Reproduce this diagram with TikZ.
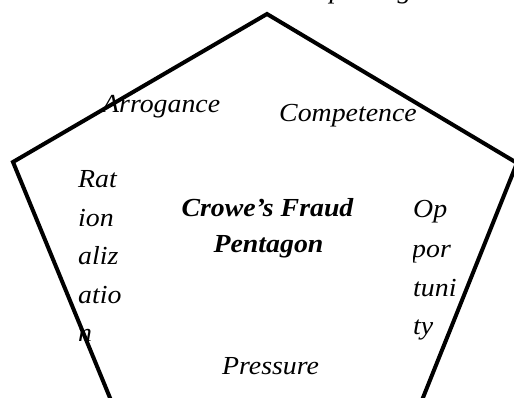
\documentclass[tikz,border=0pt]{standalone}
\usepackage{fontspec}
\newfontfamily\tnri[FakeStretch=1.07]{Liberation Serif Italic}
\newfontfamily\tnrbi[FakeStretch=1.07]{Liberation Serif Bold Italic}
\tikzset{
  lbl/.style={font=\tnri\fontsize{26}{29}\selectfont, inner sep=0pt, anchor=base west},
  ttl/.style={font=\tnrbi\fontsize{26}{29}\selectfont, inner sep=0pt, anchor=base},
  edge/.style={line width=4pt, line join=miter, draw=black}
}
\begin{document}
\begin{tikzpicture}[x=1pt,y=-1pt]
\path[use as bounding box, clip] (0,0) rectangle (514,398);
% cut-off heading at top
\node[lbl] (head) at (300,-1) {Expecting};
% labels
\node[lbl] (arr) at (102,113) {Arrogance};
\node[lbl] (comp) at (279,122) {Competence};
\node[lbl] (rat1) at (78,188) {Rat};
\node[lbl] (rat2) at (78,227) {ion};
\node[lbl] (rat3) at (78,265) {aliz};
\node[lbl] (rat4) at (78,303) {atio};
\node[lbl] (rat5) at (78,341) {n};
\begin{scope}
\clip (413,150) rectangle (480,360);
\node[lbl] (opp1) at (413,218) {Op};
\node[lbl] (opp2) at (412,257) {por};
\node[lbl] (opp3) at (413,296) {tuni};
\node[lbl] (opp4) at (413,334) {ty};
\end{scope}
\node[ttl] (t1) at (267.5,217) {Crowe’s Fraud};
\node[ttl] (t2) at (268.5,252) {Pentagon};
\node[lbl] (pres) at (222,374) {Pressure};
% pentagon
\coordinate (top) at (267,14);
\coordinate (ul) at (13,162);
\coordinate (ll) at (152,500);
\coordinate (lr) at (382,500);
\coordinate (ur) at (517,163);
\draw[edge] (top) -- (ul) -- (ll) -- (lr) -- (ur) -- cycle;
\end{tikzpicture}
\end{document}
